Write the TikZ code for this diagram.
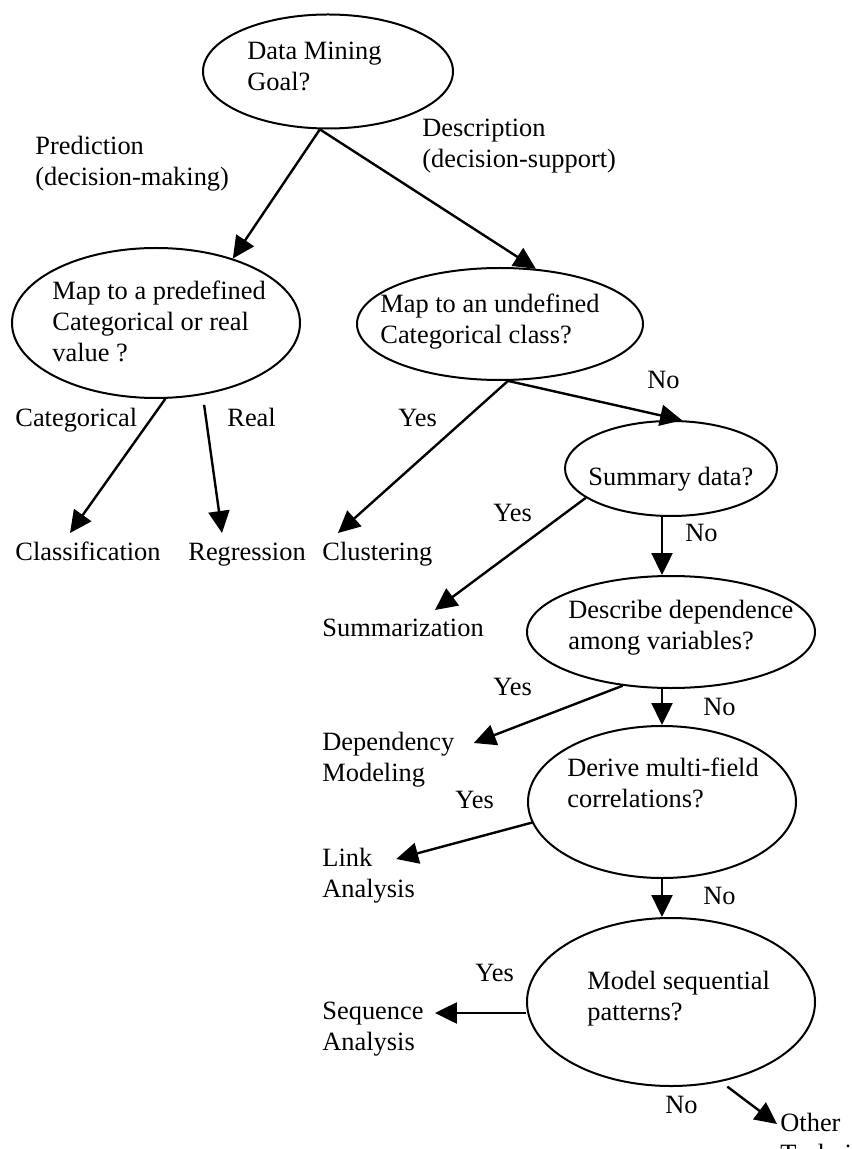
\documentclass[tikz,border=0pt]{standalone}
\usepackage{fontspec}
\setmainfont{Liberation Serif}
\usetikzlibrary{arrows.meta,shapes.geometric}

\newcommand{\stk}[1]{\begin{tabular}[t]{@{}l@{}}#1\end{tabular}}

\begin{document}
\begin{tikzpicture}[x=0.5pt,y=-0.5pt,
  ask/.style={draw, ellipse, line width=1pt, inner sep=0pt},
  txt/.style={inner sep=0pt, anchor=base west, font=\fontsize{13.2}{15.5}\selectfont},
  arr/.style={line width=1.2pt, -{Triangle[length=11pt,width=10.5pt]}}]

\useasboundingbox (0,0) rectangle (851,1149);

\node[ask, minimum width=125pt, minimum height=57pt] (goal) at (328,71.5) {};
\node[ask, minimum width=144pt, minimum height=75pt] (predef) at (156,323) {};
\node[ask, minimum width=143pt, minimum height=56pt] (undef) at (500,324) {};
\node[ask, minimum width=106pt, minimum height=47.5pt] (summ) at (671,468.5) {};
\node[ask, minimum width=144pt, minimum height=56pt] (depend) at (671,632) {};
\node[ask, minimum width=134pt, minimum height=76pt] (derive) at (662,802) {};
\node[ask, minimum width=144pt, minimum height=84pt] (model) at (671,1002) {};

\node[txt] (goaltxt) at (247,60) {\stk{Data Mining\\Goal?}};
\node[txt] (predeftxt) at (52,300) {\stk{Map to a predefined\\Categorical or real\\value ?}};
\node[txt] (undeftxt) at (380,313) {\stk{Map to an undefined\\Categorical class?}};
\node[txt] (summtxt) at (588,485) {Summary data?};
\node[txt] (dependtxt) at (568,618) {\stk{Describe dependence\\among variables?}};
\node[txt] (derivetxt) at (567,776) {\stk{Derive multi-field\\correlations?}};
\node[txt] (modeltxt) at (587,989) {\stk{Model sequential\\patterns?}};

\node[txt] (classif) at (15,560) {Classification};
\node[txt] (regr) at (188,560) {Regression};
\node[txt] (clust) at (322,560) {Clustering};
\node[txt] (summz) at (322,636) {Summarization};
\node[txt] (depmod) at (322,750) {\stk{Dependency\\Modeling}};
\node[txt] (link) at (322,866) {\stk{Link\\Analysis}};
\node[txt] (seq) at (322,1019) {\stk{Sequence\\Analysis}};
\node[txt] (other) at (780,1131) {\stk{Other\\Techniques}};

\node[txt] (pred) at (35,155) {\stk{Prediction\\(decision-making)}};
\node[txt] (descr) at (422,137) {\stk{Description\\(decision-support)}};
\node[txt] (cat) at (15,426) {Categorical};
\node[txt] (real) at (227,426) {Real};
\node[txt] (yesclust) at (398,426) {Yes};
\node[txt] (noundef) at (647,389) {No};
\node[txt] (yessumm) at (493,521) {Yes};
\node[txt] (nosumm) at (685,541) {No};
\node[txt] (yesdep) at (493,695) {Yes};
\node[txt] (nodep) at (703,715) {No};
\node[txt] (yesder) at (455,808) {Yes};
\node[txt] (noder) at (703,904) {No};
\node[txt] (yesmod) at (475,981) {Yes};
\node[txt] (nomod) at (665,1113) {No};

\draw[arr] (goal.262) -- (predef.40);
\draw[arr] (goal.262) -- (undef.57);
\draw[arr] (predef.277) -- ([shift={(55,-27)}]classif.base west);
\draw[arr, shorten <=5pt] (predef.303) -- ([shift={(34,-27)}]regr.base west);
\draw[arr] (undef.278) -- ([shift={(16,-27)}]clust.base west);
\draw[arr] (undef.278) -- (summ.77);
\draw[arr] (summ.199) -- ([shift={(113,-26)}]summz.base west);
\draw[arr] ([xshift=-4.5pt]summ.south) -- ([xshift=-4.5pt]depend.north);
\draw[arr] (depend.228) -- ([shift={(19,-7)}]depmod.base east);
\draw[arr] ([xshift=-4.5pt]depend.south) -- (derive.north);
\draw[arr] (derive.189) -- ([shift={(-19,-7)}]link.base east);
\draw[arr] (derive.south) -- ([xshift=-4.5pt]model.north);
\draw[arr] ([yshift=-5.5pt]model.west) -- ([shift={(11,-6)}]seq.base east);
\draw[arr, shorten <=4pt] (model.302) -- ([shift={(-3,-7)}]other.base west);

\end{tikzpicture}
\end{document}
